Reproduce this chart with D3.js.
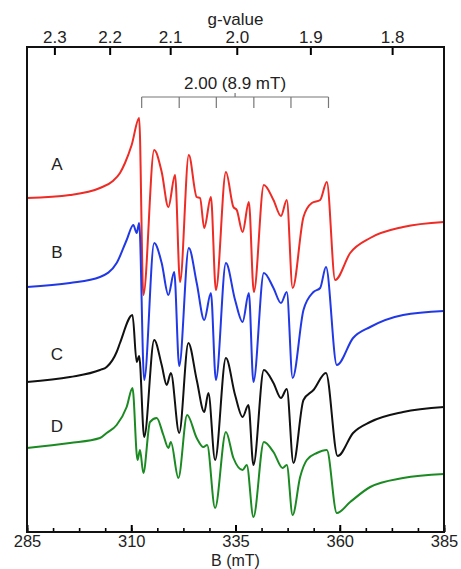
<!DOCTYPE html>
<html>
<head>
<meta charset="utf-8">
<script src="https://cdn.jsdelivr.net/npm/d3@7"></script>
<style>
  body { margin: 0; background: #fff; }
  text { font-family: "Liberation Sans", Arial, sans-serif; fill: #222; }
</style>
</head>
<body>
<div id="chart"></div>
<script>
// EPR spectra, field in mT, signal in arbitrary units
var fieldTicks = [285, 310, 335, 360, 385];
var gTicks = [2.3, 2.2, 2.1, 2.0, 1.9, 1.8];
var freqGHz = 9.386;
var combLines = [312.5, 321.5, 330.4, 339.4, 348.3, 357.3];
var combLabel = "2.00 (8.9 mT)";
var traceNames = ["A", "B", "C", "D"];
var traceColors = ["#ee2b24", "#2138e6", "#111111", "#1b8a22"];
var labelValues = [368, 280, 178, 106];

var traceA = [[285,334],[295.3,337],[302.5,344],[305.6,351],[307.3,359],[308.5,369],[310.1,387],[311.9,414],[312.9,237],
  [315.5,382],[317.3,360],[318.9,325],[320.5,357],[321.7,250],[323.8,377],[325.7,335],[326.5,334],[327.5,304],[329.1,335],
  [330.3,242],[332.7,360],[334.5,325],[335.3,322],[336.7,300],[338.2,330],[339.4,240],[341.8,347],[344.1,332],[345.9,316],
  [347.3,332],[348.7,244],[351.3,315],[353.3,329],[355.3,332],[356.9,350],[358.9,252],[362.5,279],[367.3,294],[375.2,305],[385,310]];
var traceB = [[285,245],[295.3,249],[302.5,255],[306.5,269],[308.9,292],[310.5,307],[311.3,299],[311.9,309],[313.1,152],
  [315.5,289],[317.3,269],[318.9,237],[320.3,260],[321.5,166],[323.8,284],[325.7,249],[327.5,212],[329.1,239],[330.3,152],
  [332.7,269],[334.9,232],[336.7,210],[338.2,239],[339.3,150],[341.8,259],[344.1,244],[345.9,229],[347.3,240],[348.7,154],
  [351.3,222],[353.7,240],[355.3,244],[356.7,265],[359.3,167],[363.2,194],[367.3,205],[375.2,217],[385,221]];
var traceC = [[285,150],[295.3,155],[302.5,162],[304.1,165],[306.5,180],[307.3,189],[310.3,217],[311.3,170],[311.9,176],
  [313.1,95],[315.5,192],[317.3,167],[318.5,147],[319.5,159],[321.5,99],[323.7,189],[325.7,152],[327.5,120],[328.5,139],
  [330.1,72],[332.7,174],[334.9,137],[336.7,115],[338.1,127],[339.3,67],[341.8,162],[344.1,149],[345.9,134],[347.3,143],
  [348.9,69],[351.3,132],[353.7,142],[356.7,159],[359.5,76],[363.2,99],[367.3,110],[375.2,120],[385,125]];
var traceD = [[285,84],[295.3,89],[302.5,94],[304.1,99],[306.5,107],[308.9,125],[310.3,144],[311.5,72],[312.1,82],
  [312.9,59],[314.5,110],[316.1,114],[317.7,97],[318.9,84],[319.5,90],[321.3,54],[323.4,117],[325.7,94],[327.3,85],
  [328.2,87],[330.1,24],[332.7,100],[334.5,74],[336.7,62],[337.7,67],[339.3,15],[341.8,90],[344.1,80],[346.3,64],
  [347.3,67],[348.7,17],[350.5,55],[352.1,72],[354.5,79],[356.9,82],[359.3,19],[362.5,30],[367.3,45],[375.2,54],[385,58]];
var traces = [traceA, traceB, traceC, traceD];

var W = 461, H = 569;
var margin = {top: 47, right: 17, bottom: 37, left: 27};
var width = W - margin.left - margin.right;
var height = H - margin.top - margin.bottom;
var fs = "17px";

var svg = d3.select("#chart").append("svg")
  .attr("width", W)
  .attr("height", H)
  .append("g")
  .attr("transform", "translate(" + margin.left + "," + margin.top + ")");

var x = d3.scaleLinear().domain([285, 385]).range([0, width]);
var y = d3.scaleLinear().domain([0, 485]).range([height, 0]);

// traces
var line = d3.line()
  .curve(d3.curveMonotoneX)
  .x(function(d) { return x(d[0]); })
  .y(function(d) { return y(d[1]); });

traces.forEach(function(t, i) {
  svg.append("path")
    .datum(t)
    .attr("fill", "none")
    .attr("stroke", traceColors[i])
    .attr("stroke-width", 2)
    .attr("stroke-linejoin", "round")
    .attr("d", line);
  svg.append("text")
    .attr("x", 30)
    .attr("y", y(labelValues[i]))
    .attr("text-anchor", "middle")
    .attr("dy", "0.35em")
    .style("font-size", fs)
    .text(traceNames[i]);
});

// bottom axis, minor ticks every 6.25 mT
var minor = d3.range(285, 385.01, 6.25);
svg.append("g")
  .attr("transform", "translate(0," + height + ")")
  .call(d3.axisBottom(x).tickValues(minor).tickSize(-4).tickFormat(""))
  .call(function(g) { g.select(".domain").remove(); g.selectAll("line").attr("stroke-width", 1.6); });

var bottomAxis = svg.append("g")
  .attr("transform", "translate(0," + height + ")")
  .call(d3.axisBottom(x).tickValues(fieldTicks).tickSizeInner(-7).tickSizeOuter(0).tickPadding(3));
bottomAxis.select(".domain").remove();
bottomAxis.selectAll("line").attr("stroke-width", 2);
bottomAxis.selectAll("text").style("font-size", "16.5px").attr("fill", "#222");

svg.append("text")
  .attr("x", x(335))
  .attr("y", height + 33.5)
  .attr("text-anchor", "middle")
  .style("font-size", "16px")
  .text("B (mT)");

// top axis in g-value
var K = 71.4477 * freqGHz;
var topAxis = svg.append("g")
  .call(d3.axisTop(x)
    .tickValues(gTicks.map(function(g) { return K / g; }))
    .tickFormat(function(d, i) { return gTicks[i].toFixed(1); })
    .tickSizeInner(-8).tickSizeOuter(0).tickPadding(4));
topAxis.select(".domain").remove();
topAxis.selectAll("line").attr("stroke-width", 2);
topAxis.selectAll("text").style("font-size", fs).attr("fill", "#222");

svg.append("text")
  .attr("x", x(335))
  .attr("y", -22)
  .attr("text-anchor", "middle")
  .style("font-size", fs)
  .text("g-value");

// frame
svg.append("rect")
  .attr("width", width)
  .attr("height", height)
  .attr("fill", "none")
  .attr("stroke", "#111")
  .attr("stroke-width", 2);

// hyperfine comb
var combY = 50;
var comb = svg.append("g").attr("stroke", "#777").attr("stroke-width", 1.2);
comb.append("line")
  .attr("x1", x(combLines[0])).attr("x2", x(combLines[combLines.length - 1]))
  .attr("y1", combY).attr("y2", combY);
comb.selectAll(".c").data(combLines).enter().append("line")
  .attr("x1", function(d) { return x(d); }).attr("x2", function(d) { return x(d); })
  .attr("y1", combY).attr("y2", combY + 11);
comb.append("line")
  .attr("x1", x(d3.mean(combLines))).attr("x2", x(d3.mean(combLines)))
  .attr("y1", combY).attr("y2", combY - 4);
svg.append("text")
  .attr("x", x(d3.mean(combLines)))
  .attr("y", combY - 8)
  .attr("text-anchor", "middle")
  .style("font-size", fs)
  .text(combLabel);
</script>
</body>
</html>
